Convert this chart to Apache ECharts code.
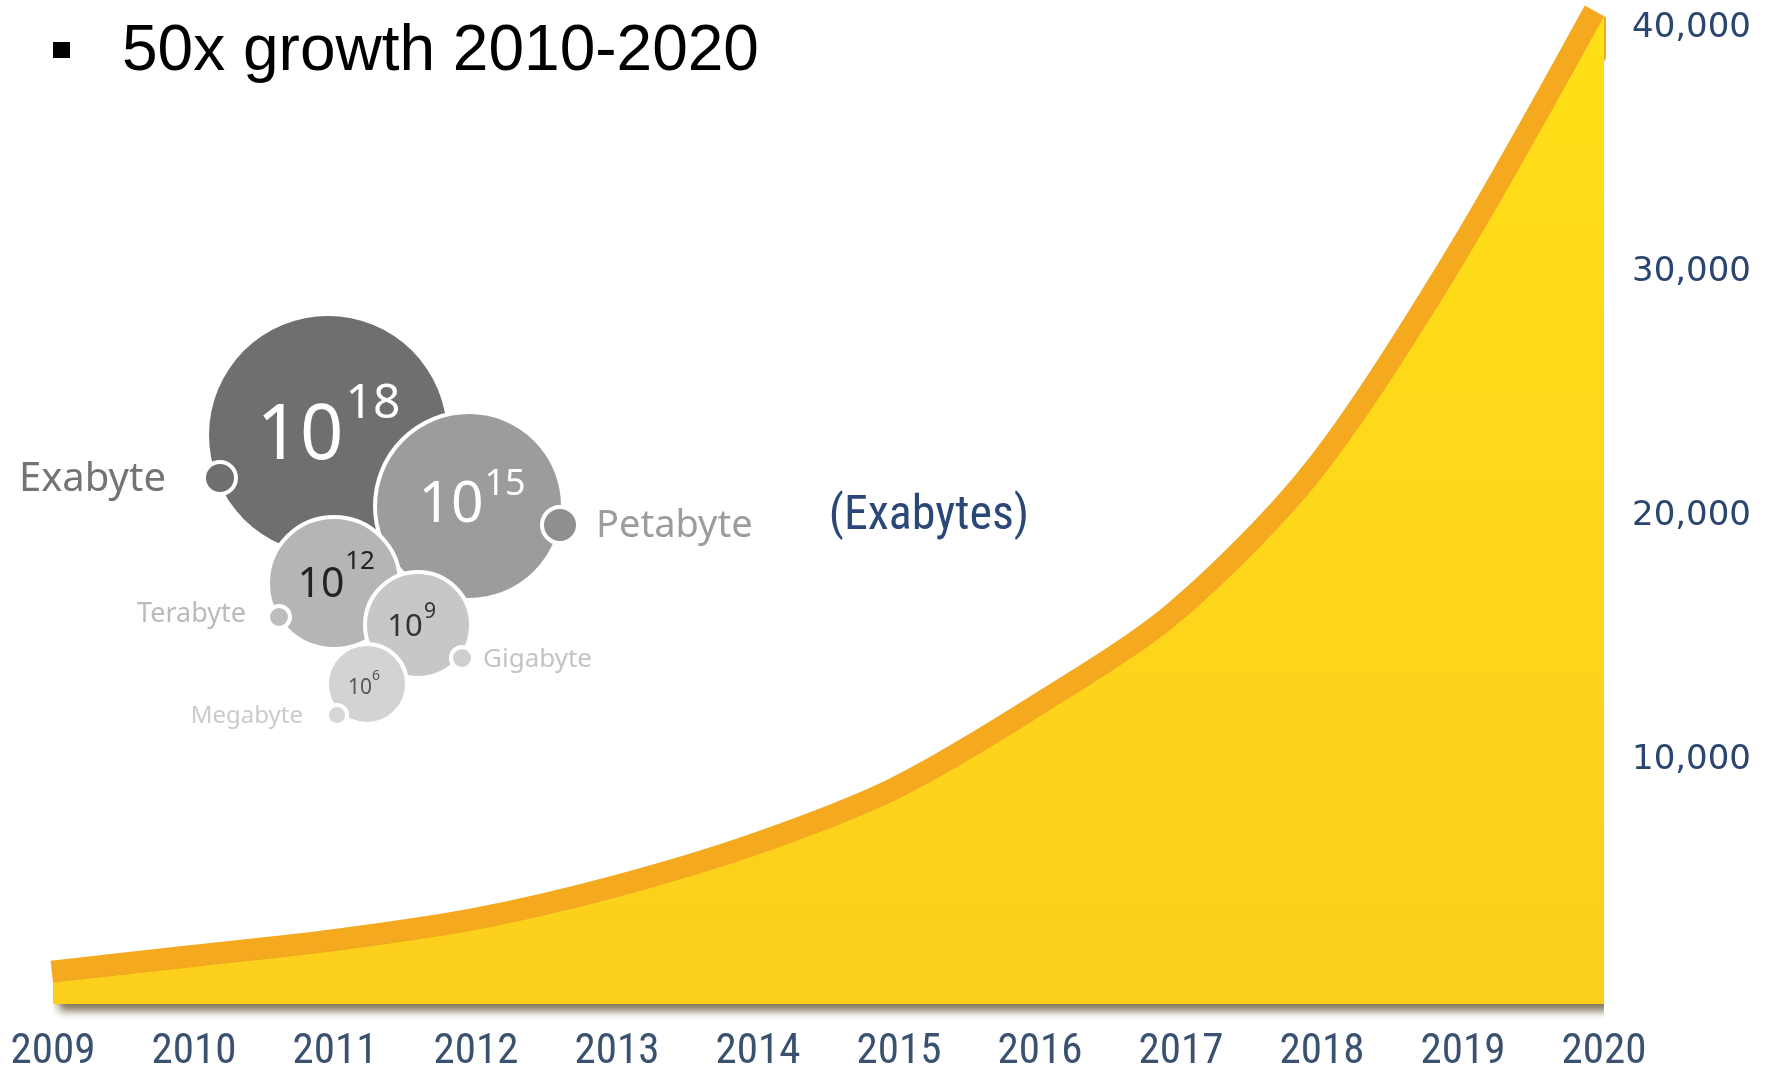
<!DOCTYPE html>
<html>
<head>
<meta charset="utf-8">
<title>Data growth</title>
<script src="https://cdn.jsdelivr.net/npm/echarts@6/dist/echarts.min.js"></script>
<style>
  html, body { margin: 0; padding: 0; background: #ffffff; }
  #chart { width: 1771px; height: 1070px; }
</style>
</head>
<body>
<div id="chart"></div>
<script>
// Yearly digital universe size, exabytes
const years = ['2009', '2010', '2011', '2012', '2013', '2014', '2015', '2016', '2017', '2018', '2019', '2020'];
const exabytes = [880, 1520, 2170, 3040, 4380, 6130, 8430, 11800, 15700, 21600, 30300, 40500];

// Value axis ticks
const yMin = 0;
const yMax = 41000;
const yStep = 10000;

// Byte-scale bubbles: exponent, unit name
const scaleExponents = ['18', '15', '12', '9', '6'];
const scaleUnits = ['Exabyte', 'Petabyte', 'Terabyte', 'Gigabyte', 'Megabyte'];

const NARROW = "'Liberation Sans Narrow', 'Arial Narrow', 'Roboto Condensed', 'DejaVu Sans Condensed', sans-serif";
const BUBBLE_FONT = "'Noto Sans', 'Open Sans', sans-serif";

const chart = echarts.init(document.getElementById('chart'), null, { renderer: 'canvas' });

// bubble layout
const bubbles = [
  { cx: 328, cy: 435, r: 119, fill: '#6f6f6f', base: 76, sup: 48, color: '#ffffff', tx: 300, ty: 437, sx: 373, sy: 404 },
  { cx: 469, cy: 506, r: 94,  fill: '#9c9c9c', base: 57, sup: 36, color: '#ffffff', tx: 451, ty: 506, sx: 505, sy: 485 },
  { cx: 334, cy: 583, r: 66,  fill: '#b5b5b5', base: 41, sup: 26, color: '#222222', tx: 321, ty: 585, sx: 360, sy: 562 },
  { cx: 418, cy: 625, r: 53,  fill: '#c7c7c7', base: 31, sup: 21, color: '#333333', tx: 405, ty: 627, sx: 430, sy: 612 },
  { cx: 367, cy: 684, r: 40,  fill: '#d3d3d3', base: 21, sup: 14, color: '#555555', tx: 360, ty: 688, sx: 376, sy: 676 }
];
const dots = [
  { cx: 220, cy: 478, r: 16, fill: '#6f6f6f', tx: 166, ty: 480, align: 'right', size: 40, color: '#747474' },
  { cx: 560, cy: 525, r: 18, fill: '#8f8f8f', tx: 596, ty: 526, align: 'left',  size: 38, color: '#9c9c9c' },
  { cx: 279, cy: 617, r: 11, fill: '#bdbdbd', tx: 246, ty: 614, align: 'right', size: 27, color: '#bbbbbb' },
  { cx: 462, cy: 658, r: 11, fill: '#cfcfcf', tx: 483, ty: 660, align: 'left',  size: 26, color: '#c4c4c4' },
  { cx: 337, cy: 715, r: 10, fill: '#d6d6d6', tx: 303, ty: 716, align: 'right', size: 24, color: '#cbcbcb' }
];

const graphics = [];
// bullet + heading
graphics.push({ type: 'rect', shape: { x: 53, y: 42, width: 17, height: 16 }, style: { fill: '#000000' } });
graphics.push({
  type: 'text',
  style: { x: 122, y: 52, text: '50x growth 2010-2020', font: "64px 'Liberation Sans', Arial, sans-serif", fill: '#000000', textAlign: 'left', textVerticalAlign: 'middle' }
});
// unit caption
graphics.push({
  type: 'text',
  style: { x: 929, y: 517, text: '(Exabytes)', font: '48px ' + NARROW, fill: '#2b4778', textAlign: 'center', textVerticalAlign: 'middle' }
});
// keeps the rim from poking past the last year's edge
graphics.push({ type: 'rect', z: 2.5, zlevel: 0, shape: { x: 1606, y: 0, width: 24, height: 60 }, style: { fill: '#ffffff' } });

bubbles.forEach(function (b, i) {
  graphics.push({ type: 'circle', z: 10 + i, shape: { cx: b.cx, cy: b.cy, r: b.r }, style: { fill: b.fill, stroke: i === 0 ? null : '#ffffff', lineWidth: 4 } });
  graphics.push({ type: 'text', z: 30 + i, style: { x: b.tx, y: b.ty, text: '10', font: b.base + 'px ' + BUBBLE_FONT, fill: b.color, textAlign: 'center', textVerticalAlign: 'middle' } });
  graphics.push({ type: 'text', z: 30 + i, style: { x: b.sx, y: b.sy, text: scaleExponents[i], font: b.sup + 'px ' + BUBBLE_FONT, fill: b.color, textAlign: 'center', textVerticalAlign: 'middle' } });
});
dots.forEach(function (d, i) {
  graphics.push({ type: 'circle', z: 40 + i, shape: { cx: d.cx, cy: d.cy, r: d.r }, style: { fill: d.fill, stroke: '#ffffff', lineWidth: 4 } });
  graphics.push({ type: 'text', z: 40 + i, style: { x: d.tx, y: d.ty, text: scaleUnits[i], font: d.size + 'px ' + BUBBLE_FONT, fill: d.color, textAlign: d.align, textVerticalAlign: 'middle' } });
});

const option = {
  backgroundColor: '#ffffff',
  animation: false,
  grid: { left: 53, right: 167, top: 4, bottom: 66, containLabel: false, outerBoundsMode: 'none' },
  xAxis: {
    type: 'category',
    data: years,
    boundaryGap: false,
    axisLine: { show: false },
    axisTick: { show: false },
    splitLine: { show: false },
    axisLabel: {
      interval: 0,
      margin: 27,
      color: '#3b5170',
      fontFamily: NARROW,
      fontSize: 43
    }
  },
  yAxis: {
    type: 'value',
    position: 'right',
    min: yMin,
    max: yMax,
    interval: yStep,
    axisLine: { show: false },
    axisTick: { show: false },
    splitLine: { show: false },
    axisLabel: {
      showMinLabel: false,
      showMaxLabel: false,
      margin: 28,
      padding: [10, 0, 0, 0],
      color: '#2a4570',
      fontFamily: "'DejaVu Sans', Verdana, sans-serif",
      fontSize: 34,
      formatter: function (v) { return v.toLocaleString('en-US'); }
    }
  },
  series: [
    {
      // upper rim of the area
      type: 'line',
      data: exabytes,
      smooth: 0.3,
      showSymbol: false,
      clip: true,
      z: 2,
      lineStyle: { color: '#f4a91f', width: 44, cap: 'butt', join: 'round' },
      silent: true
    },
    {
      // front face
      type: 'line',
      data: exabytes,
      smooth: 0.3,
      showSymbol: false,
      clip: false,
      z: 3,
      lineStyle: { width: 0, opacity: 0 },
      areaStyle: {
        opacity: 1,
        color: new echarts.graphic.LinearGradient(0, 0, 0, 1, [
          { offset: 0, color: '#ffdf17' },
          { offset: 1, color: '#fccf1c' }
        ]),
        shadowColor: 'rgba(60, 40, 0, 0.65)',
        shadowBlur: 8,
        shadowOffsetX: 6,
        shadowOffsetY: 7
      },
      silent: true
    }
  ],
  graphic: { elements: graphics }
};

chart.setOption(option);
</script>
</body>
</html>
